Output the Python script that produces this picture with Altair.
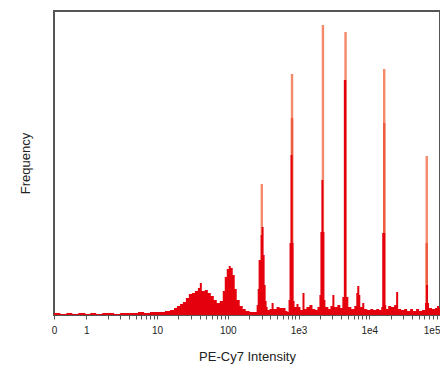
import altair as alt
import pandas as pd

# Histogram (step) : left edge intensity of each step and its frequency height
bin_x = [0.35, 0.43, 0.523, 0.635, 0.772, 0.968, 1.14, 1.38, 1.68, 2.04, 2.48, 3.01, 3.66, 4.44, 5.40,
         6.56, 7.97, 9.37, 11.0, 12.96, 15.25, 17.4, 19.1, 21.1, 23.2, 25.6, 28.2, 31.1, 34.3, 37.8,
         40.3, 43.0, 47.4, 52.3, 57.6, 63.5, 70.0, 77.2, 85.0, 90.7, 96.8, 103.3, 110.2, 117.6, 125.5,
         133.9, 147.6, 162.7, 179.3, 204, 232, 256, 265, 273, 291.6, 301, 321, 332, 343, 354,
         366, 390, 416.6, 444.5, 489.8, 540, 595, 656, 700, 723, 747, 772, 823, 850, 879,
         937, 1000, 1067, 1139, 1215, 1296, 1429, 1575, 1735, 1852, 1976, 2041, 2109, 2250, 2324,
         2401, 2646, 2823, 3012, 3214, 3543, 3904, 4166, 4373, 4744, 5061, 5579, 6150, 6560, 6777,
         7232, 7470, 7967, 8505, 9372, 10330, 11390, 12550, 13830, 14760, 15250, 16810, 17350, 18520, 20410,
         22500, 24010, 25620, 28230, 31120, 34290, 37800, 41660, 45920, 50600, 55790, 61500, 63500, 67770, 70000,
         77170, 85050, 90730, 96800, 100000]
bin_h = [2, 1, 2, 1, 2, 1, 2, 1, 2, 2, 1, 2, 2, 2, 3,
         2, 3, 3, 3, 4, 5, 7, 9, 11, 13, 17, 21, 22, 24, 27,
         32, 24, 25, 22, 19, 15, 12, 14, 24, 38, 46, 49, 47, 40, 26,
         15, 9, 6, 4, 3, 3, 10, 26, 55, 80, 88, 60, 30, 14, 8,
         5, 6, 12, 6, 8, 7, 7, 4, 3, 15, 72, 160, 72, 14, 8,
         11, 8, 5, 22, 6, 8, 10, 6, 5, 8, 20, 83, 135, 83, 15,
         8, 6, 9, 20, 8, 10, 7, 18, 235, 18, 8, 6, 9, 22, 29,
         20, 8, 12, 6, 5, 6, 5, 6, 5, 8, 82, 10, 6, 9, 8,
         10, 23, 6, 5, 6, 4, 6, 4, 6, 4, 5, 12, 30, 12, 7,
         6, 7, 9, 7, 7]

# Narrow spike tips (lighter, anti-aliased look) and middle sections
spike_x = [303, 810, 2213, 4623, 16270, 65000]
spike_tip = [131, 241, 290, 283, 246, 159]
mid_x = [810, 16270, 65000]
mid_h = [197, 192, 72]

# Axis ticks and labels
major_ticks = [0.35, 1, 10, 100, 1000, 10000, 100000]
major_labels = ["0", "1", "10", "100", "1e3", "1e4", "1e5"]
minor_ticks = [d * k for d in [1, 10, 100, 1000, 10000] for k in range(2, 10)]
tick_values = sorted(major_ticks + minor_ticks)

RED = "#e5000e"
MID = "#ee5a3c"
SALMON = "#f5896b"
FONT = "Liberation Sans"

hist = pd.DataFrame({"x": bin_x, "h": bin_h})
tips = pd.DataFrame({"x": spike_x, "h": spike_tip})
mids = pd.DataFrame({"x": mid_x, "h": mid_h})

label_expr = " : ".join(
    [f"abs(datum.value - {v}) < {v * 1e-4} ? '{l}'" for v, l in zip(major_ticks, major_labels)]
) + " : ''"

xscale = alt.Scale(type="log", domain=[0.35, 100000], nice=False, padding=0)
yscale = alt.Scale(domain=[0, 304], nice=False, padding=0)
xaxis = alt.Axis(title="PE-Cy7 Intensity", values=tick_values, labelExpr=label_expr,
                 labelOverlap=False, grid=False, domain=False, tickSize=4, tickColor="#555555",
                 labelFontSize=10, labelColor="#222222", labelPadding=6, labelFont=FONT,
                 labelAlign={"condition": {"test": "datum.value > 50000", "value": "right"},
                             "value": "center"},
                 titleFont=FONT, titleFontSize=13, titleFontWeight="normal", titleColor="#222222",
                 titlePadding=15)
yaxis = alt.Axis(title="Frequency", labels=False, ticks=False, grid=False, domain=False,
                 titleFont=FONT, titleFontSize=13, titleFontWeight="normal", titleColor="#222222",
                 titlePadding=22)

tip_layer = alt.Chart(tips).mark_bar(size=2.4, color=SALMON).encode(
    x=alt.X("x:Q", scale=xscale, axis=xaxis),
    y=alt.Y("h:Q", scale=yscale, axis=yaxis),
)
mid_layer = alt.Chart(mids).mark_bar(size=2.4, color=MID).encode(
    x=alt.X("x:Q", scale=xscale, axis=xaxis),
    y=alt.Y("h:Q", scale=yscale, axis=yaxis),
)
area_layer = alt.Chart(hist).mark_area(interpolate="step-after", color=RED).encode(
    x=alt.X("x:Q", scale=xscale, axis=xaxis),
    y=alt.Y("h:Q", scale=yscale, axis=yaxis),
)

chart = alt.layer(tip_layer, mid_layer, area_layer).properties(
    width=386, height=304,
    autosize=alt.AutoSizeParams(type="none"),
    padding={"left": 46, "top": 3, "right": 0, "bottom": 51},
).configure_view(stroke="#555555", strokeWidth=2)

chart.save("out.html", embed_options={"renderer": "svg", "actions": False})
